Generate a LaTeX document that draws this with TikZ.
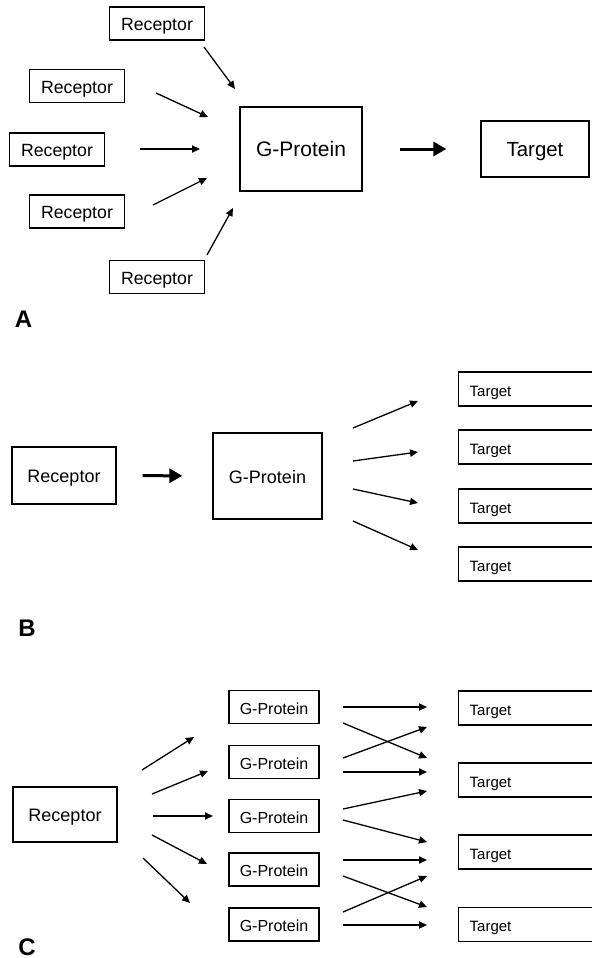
\documentclass[tikz,border=0pt]{standalone}
\usepackage{fontspec}
\setmainfont{Liberation Sans}
\usetikzlibrary{arrows.meta}

\begin{document}
\begin{tikzpicture}[
  x=0.5pt, y=-0.5pt,
  box/.style={draw, line width=0.65pt, inner sep=0pt, text height=0.72em, text depth=0pt},
  recbox/.style={box, minimum width=47.5pt, minimum height=16.5pt, font=\fontsize{8.85}{10}\selectfont},
  bigbox/.style={box, font=\fontsize{9}{11}\selectfont},
  gsmall/.style={box, minimum width=45pt, minimum height=16.5pt, font=\fontsize{8}{10}\selectfont},
  tgtbox/.style={draw, line width=0.65pt, anchor=west, inner ysep=0pt, inner xsep=5.5pt,
    text width=80pt, align=left, minimum height=17pt, text height=0.72em, text depth=0pt,
    font=\fontsize{7.5}{9}\selectfont},
  arr/.style={line width=0.65pt, -{Triangle[length=4pt, width=3.6pt]}},
  bigarr/.style={line width=1.5pt, -{Triangle[length=6.5pt, width=7pt]}},
  panellabel/.style={font=\fontsize{12}{14}\selectfont\bfseries, inner sep=0pt}
]
\useasboundingbox (0,0) rectangle (591,958);

% --- panel A: several receptors feed one G-protein ---
\foreach \i/\x/\y in {1/157/23.5, 2/77/86, 3/57/149.5, 4/77/211.5, 5/157/277}{
  \node[recbox] (rA\i) at (\x,\y) {Receptor};
}
\node[box, minimum width=61pt, minimum height=42pt, font=\fontsize{10.5}{12}\selectfont] (gA) at (301,149) {G-Protein};
\node[box, minimum width=54pt, minimum height=28pt, font=\fontsize{10.2}{12}\selectfont] (tA) at (535,149) {Target};

\foreach \i/\sx/\sy/\ex/\ey in {1/204/47/235/89, 2/156/93/208/117, 3/140/149/200/149,
                                 4/153/205/207/178, 5/207/255/233/208}{
  \coordinate (aA\i) at (\sx,\sy);
  \coordinate (bA\i) at (\ex,\ey);
  \draw[arr] (aA\i) -- (bA\i);
}
\draw[bigarr, shorten <=18.5pt, shorten >=17pt] (gA) -- (tA);
\node[panellabel] (labA) at (23.5,319.5) {A};

% --- panel B: one G-protein feeds several targets ---
\node[bigbox, minimum width=52pt, minimum height=28.5pt] (rB) at (64,475.5) {Receptor};
\node[bigbox, minimum width=54.5pt, minimum height=43pt] (gB) at (267.5,476) {G-Protein};
\draw[bigarr, shorten <=13pt, shorten >=15pt] (rB) -- (gB);

\foreach \i/\y in {1/389, 2/447, 3/506, 4/564}{
  \node[tgtbox] (tB\i) at (458,\y) {Target};
}
\foreach \i/\sy/\ey in {1/428/401, 2/461/452, 3/489/503, 4/521/550}{
  \coordinate (aB\i) at (353,\sy);
  \coordinate (bB\i) at (418,\ey);
  \draw[arr] (aB\i) -- (bB\i);
}
\node[panellabel] (labB) at (27,628) {B};

% --- panel C: one receptor, many G-proteins, crossing onto targets ---
\node[bigbox, minimum width=52pt, minimum height=27.5pt] (rC) at (65,814.5) {Receptor};
\foreach \i/\y in {1/707, 2/762, 3/816, 4/869.5, 5/924.5}{
  \node[gsmall] (gC\i) at (274,\y) {G-Protein};
}
\foreach \i/\y in {1/708, 2/780, 3/852, 4/924.5}{
  \node[tgtbox] (tC\i) at (458,\y) {Target};
}

\foreach \i/\sx/\sy/\ex/\ey in {1/142/770/194/737, 2/152/794/208/771, 3/153/816/213/816,
                                 4/152/835/207/864, 5/143/858/190/903}{
  \coordinate (aC\i) at (\sx,\sy);
  \coordinate (bC\i) at (\ex,\ey);
  \draw[arr] (aC\i) -- (bC\i);
}
\foreach \i/\sy/\ey in {1/707/707, 2/723/758, 3/758/727, 4/772/772, 5/809/791,
                        6/820/842, 7/860/860, 8/876/907, 9/912/876, 10/925/925}{
  \coordinate (cC\i) at (343,\sy);
  \coordinate (dC\i) at (427,\ey);
  \draw[arr] (cC\i) -- (dC\i);
}
\node[panellabel] (labC) at (27,947) {C};

\end{tikzpicture}
\end{document}
